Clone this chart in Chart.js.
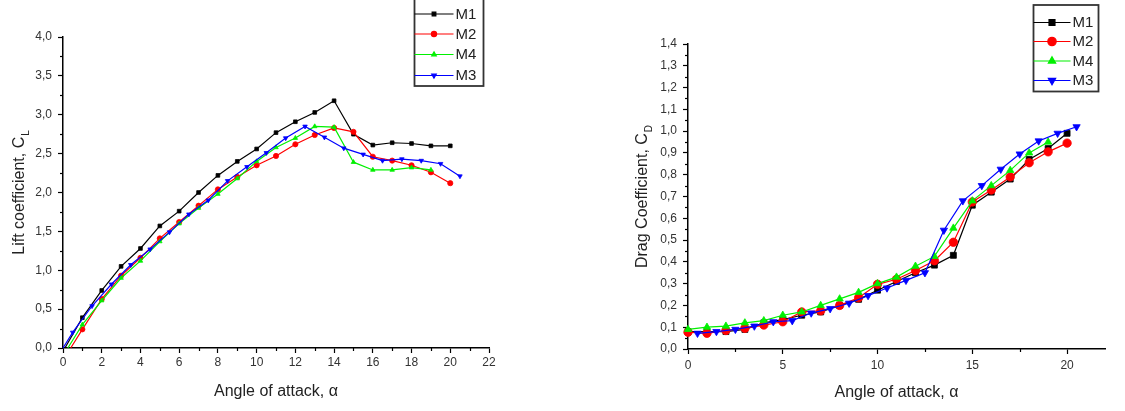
<!DOCTYPE html>
<html>
<head>
<meta charset="utf-8">
<script src="https://cdn.jsdelivr.net/npm/chart.js@4.4.1/dist/chart.umd.min.js"></script>
<style>
  html, body { margin: 0; padding: 0; background: #fff; }
  #wrap { position: relative; width: 1125px; height: 411px; overflow: hidden; }
  .box { position: absolute; top: 0; height: 411px; }
  #b1 { left: 0; width: 562px; }
  #b2 { left: 562px; width: 563px; }
</style>
</head>
<body>
<div id="wrap">
  <div class="box" id="b1"><canvas id="c1" width="562" height="411"></canvas></div>
  <div class="box" id="b2"><canvas id="c2" width="563" height="411"></canvas></div>
</div>
<script>
// ---------- Data: Lift coefficient (left chart) ----------
const liftM1X = [0.1, 1, 2, 3, 4, 5, 6, 7, 8, 9, 10, 11, 12, 13, 14, 15, 16, 17, 18, 19, 20];
const liftM1Y = [0.0, 0.39, 0.74, 1.05, 1.28, 1.57, 1.76, 2.00, 2.22, 2.40, 2.56, 2.77, 2.91, 3.03, 3.18, 2.75, 2.61, 2.64, 2.63, 2.60, 2.60];
const liftM2X = [0.4, 1, 2, 3, 4, 5, 6, 7, 8, 9, 10, 11, 12, 13, 14, 15, 16, 17, 18, 19, 20];
const liftM2Y = [0.0, 0.24, 0.63, 0.93, 1.16, 1.41, 1.62, 1.83, 2.04, 2.20, 2.35, 2.47, 2.62, 2.74, 2.83, 2.78, 2.46, 2.41, 2.35, 2.26, 2.12];
const liftM4X = [0.25, 1, 2, 3, 4, 5, 6, 7, 8, 9, 10, 11, 12, 13, 14, 15, 16, 17, 18, 19];
const liftM4Y = [0.0, 0.30, 0.61, 0.90, 1.12, 1.37, 1.60, 1.80, 1.98, 2.18, 2.40, 2.58, 2.70, 2.85, 2.84, 2.39, 2.29, 2.29, 2.32, 2.29];
const liftM3X = [0, 0.5, 1.5, 2.5, 3.5, 4.5, 5.5, 6.5, 7.5, 8.5, 9.5, 10.5, 11.5, 12.5, 13.5, 14.5, 15.5, 16.5, 17.5, 18.5, 19.5, 20.5];
const liftM3Y = [0.0, 0.20, 0.54, 0.82, 1.07, 1.27, 1.49, 1.72, 1.90, 2.15, 2.33, 2.51, 2.70, 2.85, 2.71, 2.57, 2.49, 2.41, 2.43, 2.41, 2.37, 2.21];

// ---------- Data: Drag coefficient (right chart) ----------
const dragM1X = [0, 1, 2, 3, 4, 5, 6, 7, 8, 9, 10, 11, 12, 13, 14, 15, 16, 17, 18, 19, 20];
const dragM1Y = [0.08, 0.08, 0.08, 0.09, 0.12, 0.135, 0.155, 0.17, 0.20, 0.228, 0.27, 0.31, 0.35, 0.385, 0.43, 0.66, 0.72, 0.78, 0.87, 0.92, 0.99];
const dragM2X = [0, 1, 2, 3, 4, 5, 6, 7, 8, 9, 10, 11, 12, 13, 14, 15, 16, 17, 18, 19, 20];
const dragM2Y = [0.077, 0.072, 0.085, 0.095, 0.11, 0.125, 0.17, 0.175, 0.20, 0.235, 0.297, 0.32, 0.36, 0.405, 0.49, 0.675, 0.73, 0.79, 0.855, 0.905, 0.945];
const dragM4X = [0, 1, 2, 3, 4, 5, 6, 7, 8, 9, 10, 11, 12, 13, 14, 15, 16, 17, 18, 19];
const dragM4Y = [0.09, 0.10, 0.105, 0.12, 0.13, 0.155, 0.17, 0.20, 0.23, 0.26, 0.30, 0.33, 0.38, 0.425, 0.555, 0.68, 0.75, 0.82, 0.90, 0.95];
const dragM3X = [0.5, 1.5, 2.5, 3.5, 4.5, 5.5, 6.5, 7.5, 8.5, 9.5, 10.5, 11.5, 12.5, 13.5, 14.5, 15.5, 16.5, 17.5, 18.5, 19.5, 20.5];
const dragM3Y = [0.072, 0.08, 0.09, 0.105, 0.125, 0.13, 0.165, 0.185, 0.21, 0.245, 0.28, 0.315, 0.35, 0.545, 0.68, 0.75, 0.825, 0.895, 0.955, 0.99, 1.02];

// ---------- Series names & ticks ----------
const seriesNames = ['M1', 'M2', 'M4', 'M3'];
const leftXTicks = [0, 2, 4, 6, 8, 10, 12, 14, 16, 18, 20, 22];
const leftXTickLabels = ['0', '2', '4', '6', '8', '10', '12', '14', '16', '18', '20', '22'];
const leftXMinor = [1, 3, 5, 7, 9, 11, 13, 15, 17, 19, 21];
const leftYTicks = [0, 0.5, 1, 1.5, 2, 2.5, 3, 3.5, 4];
const leftYTickLabels = ['0,0', '0,5', '1,0', '1,5', '2,0', '2,5', '3,0', '3,5', '4,0'];
const leftYMinor = [0.25, 0.75, 1.25, 1.75, 2.25, 2.75, 3.25, 3.75];
const rightXTicks = [0, 5, 10, 15, 20];
const rightXTickLabels = ['0', '5', '10', '15', '20'];
const rightXMinor = [2.5, 7.5, 12.5, 17.5];
const rightYTicks = [0, 0.1, 0.2, 0.3, 0.4, 0.5, 0.6, 0.7, 0.8, 0.9, 1.0, 1.1, 1.2, 1.3, 1.4];
const rightYTickLabels = ['0,0', '0,1', '0,2', '0,3', '0,4', '0,5', '0,6', '0,7', '0,8', '0,9', '1,0', '1,1', '1,2', '1,3', '1,4'];
const rightYMinor = [0.05, 0.15, 0.25, 0.35, 0.45, 0.55, 0.65, 0.75, 0.85, 0.95, 1.05, 1.15, 1.25, 1.35];

const FONT = "'Liberation Sans', Arial, sans-serif";
const colors = ['#000000', '#ff0000', '#00f000', '#0000ff'];
const styles = [
  { pointStyle: 'rect', rotation: 0 },
  { pointStyle: 'circle', rotation: 0 },
  { pointStyle: 'triangle', rotation: 0 },
  { pointStyle: 'triangle', rotation: 180 }
];

function zip(xs, ys) { return xs.map((x, i) => ({ x: x, y: ys[i] })); }

function makeDatasets(sets, radius, hideFirstZero) {
  return sets.map((pts, i) => ({
    label: seriesNames[i],
    data: pts,
    borderColor: colors[i],
    backgroundColor: colors[i],
    borderWidth: 1.2,
    pointStyle: styles[i].pointStyle,
    rotation: styles[i].rotation,
    pointRadius: (ctx) => (hideFirstZero && ctx.dataIndex === 0 && pts[0].y === 0) ? 0 : radius,
    pointBorderWidth: 0.8,
    pointHoverRadius: radius,
    tension: 0,
    fill: false,
    clip: 6,
    order: 3 - i
  }));
}

// plugin: minor ticks, y title with subscript, boxed legend
const extrasPlugin = {
  id: 'extras',
  afterDraw(chart, args, opts) {
    const ctx = chart.ctx;
    const xs = chart.scales.x, ys = chart.scales.y;
    const area = chart.chartArea;
    ctx.save();
    ctx.strokeStyle = '#000';
    ctx.lineWidth = 1.2;
    // minor ticks
    opts.xMinor.forEach(v => {
      const px = Math.round(xs.getPixelForValue(v)) + 0.5;
      ctx.beginPath(); ctx.moveTo(px, area.bottom); ctx.lineTo(px, area.bottom + 3); ctx.stroke();
    });
    opts.yMinor.forEach(v => {
      const py = Math.round(ys.getPixelForValue(v)) + 0.5;
      ctx.beginPath(); ctx.moveTo(area.left, py); ctx.lineTo(area.left - 3, py); ctx.stroke();
    });
    // y title with subscript
    const cy = (area.top + area.bottom) / 2;
    const mainFont = '16px ' + FONT;
    const subFont = '10px ' + FONT;
    ctx.font = mainFont;
    const w1 = ctx.measureText(opts.yTitle).width;
    ctx.font = subFont;
    const w2 = ctx.measureText(opts.ySub).width;
    const total = w1 + w2 + 1;
    ctx.translate(opts.yTitleX, cy);
    ctx.rotate(-Math.PI / 2);
    ctx.fillStyle = '#222';
    ctx.textBaseline = 'middle';
    ctx.textAlign = 'left';
    ctx.font = mainFont;
    ctx.fillText(opts.yTitle, -total / 2, 0);
    ctx.font = subFont;
    ctx.fillText(opts.ySub, -total / 2 + w1 + 1, 6);
    ctx.restore();

    // legend
    const L = opts.legend;
    ctx.save();
    ctx.fillStyle = '#fff';
    ctx.fillRect(L.x, L.y, L.w, L.h);
    ctx.strokeStyle = '#333';
    ctx.lineWidth = 1.8;
    ctx.strokeRect(L.x, L.y, L.w, L.h);
    chart.data.datasets.forEach((ds, i) => {
      const ry = L.rowY[i];
      ctx.strokeStyle = ds.borderColor;
      ctx.lineWidth = 1.2;
      ctx.beginPath(); ctx.moveTo(L.x, ry); ctx.lineTo(L.x + L.lineLen, ry); ctx.stroke();
      ctx.fillStyle = ds.backgroundColor;
      ctx.strokeStyle = ds.borderColor;
      Chart.helpers.drawPoint(ctx, { pointStyle: ds.pointStyle, rotation: ds.rotation, radius: L.radius, borderWidth: 0.8 }, L.x + L.lineLen / 2, ry);
      ctx.fillStyle = '#222';
      ctx.font = '15px ' + FONT;
      ctx.textBaseline = 'middle';
      ctx.textAlign = 'left';
      ctx.fillText(ds.label, L.x + L.lineLen + 2, ry + 0.5);
    });
    ctx.restore();
  }
};

function makeScales(cfg) {
  return {
    x: {
      type: 'linear', min: cfg.xMin, max: cfg.xMax,
      afterFit: (s) => { s.height = cfg.xHeight; },
      afterBuildTicks: (s) => { s.ticks = cfg.xTicks.map(v => ({ value: v })); },
      ticks: {
        autoSkip: false, maxRotation: 0, padding: cfg.xPad, color: '#333',
        font: { family: FONT, size: 12 },
        callback: (v, i) => cfg.xLabels[i]
      },
      grid: { drawOnChartArea: false, drawTicks: true, tickLength: 5, tickColor: '#000', tickWidth: 1.2 },
      border: { display: true, color: '#000', width: 1.5 },
      title: { display: true, text: 'Angle of attack, α', color: '#222', font: { family: FONT, size: 16 }, padding: { top: 0, bottom: cfg.titlePad } }
    },
    y: {
      type: 'linear', min: cfg.yMin, max: cfg.yMax,
      afterFit: (s) => { s.width = cfg.yWidth; },
      afterBuildTicks: (s) => { s.ticks = cfg.yTicks.map(v => ({ value: v })); },
      ticks: {
        autoSkip: false, padding: 6, color: '#333',
        font: { family: FONT, size: 12 },
        callback: (v, i) => cfg.yLabels[i]
      },
      grid: { drawOnChartArea: false, drawTicks: true, tickLength: 5, tickColor: '#000', tickWidth: 1.2 },
      border: { display: true, color: '#000', width: 1.5 }
    }
  };
}

new Chart(document.getElementById('c1'), {
  type: 'line',
  data: {
    datasets: makeDatasets([zip(liftM1X, liftM1Y), zip(liftM2X, liftM2Y), zip(liftM4X, liftM4Y), zip(liftM3X, liftM3Y)], 2.6, true)
  },
  options: {
    responsive: false, animation: false, devicePixelRatio: 1,
    layout: { padding: { top: 37, right: 73, left: 0, bottom: 0 } },
    plugins: {
      legend: { display: false }, tooltip: { enabled: false },
      extras: {
        xMinor: leftXMinor, yMinor: leftYMinor,
        yTitle: 'Lift coefficient, C', ySub: 'L', yTitleX: 20,
        legend: { x: 414.5, y: -1, w: 69, h: 87, lineLen: 39, radius: 2.6, rowY: [14, 34, 54.5, 75.5] }
      }
    },
    scales: makeScales({ xMin: 0, xMax: 22, yMin: 0, yMax: 4, xHeight: 63, yWidth: 63, xPad: 2, titlePad: 10,
      xTicks: leftXTicks, xLabels: leftXTickLabels, yTicks: leftYTicks, yLabels: leftYTickLabels })
  },
  plugins: [extrasPlugin]
});

new Chart(document.getElementById('c2'), {
  type: 'line',
  data: {
    datasets: makeDatasets([zip(dragM1X, dragM1Y), zip(dragM2X, dragM2Y), zip(dragM4X, dragM4Y), zip(dragM3X, dragM3Y)], 4.2, false)
  },
  options: {
    responsive: false, animation: false, devicePixelRatio: 1,
    layout: { padding: { top: 44, right: 20, left: 0, bottom: 0 } },
    plugins: {
      legend: { display: false }, tooltip: { enabled: false },
      extras: {
        xMinor: rightXMinor, yMinor: rightYMinor,
        yTitle: 'Drag Coefficient, C', ySub: 'D', yTitleX: 81,
        legend: { x: 471.5, y: 5, w: 65, h: 86.5, lineLen: 37, radius: 4.2, rowY: [22.5, 41.5, 61, 80.5] }
      }
    },
    scales: makeScales({ xMin: 0, xMax: 22, yMin: 0, yMax: 1.4, xHeight: 62, yWidth: 126, xPad: 4, titlePad: 9,
      xTicks: rightXTicks, xLabels: rightXTickLabels, yTicks: rightYTicks, yLabels: rightYTickLabels })
  },
  plugins: [extrasPlugin]
});
</script>
</body>
</html>
